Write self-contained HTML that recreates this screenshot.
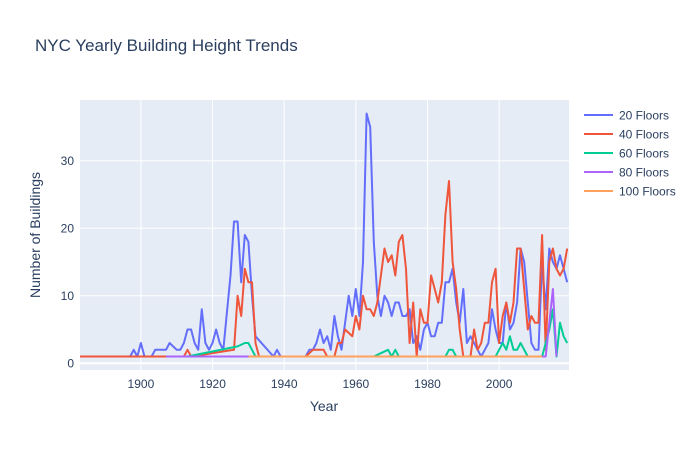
<!DOCTYPE html>
<html><head><meta charset="utf-8">
<style>
body{margin:0;background:#fff;font-family:"Liberation Sans",Arial,sans-serif;}
svg text{font-family:"Liberation Sans",Arial,sans-serif;fill:#2a3f5f;}
</style></head>
<body>
<svg id="chart" width="700" height="450" xmlns="http://www.w3.org/2000/svg">
<rect width="700" height="450" fill="#fff"/>
<text x="35" y="51" font-size="17">NYC Yearly Building Height Trends</text>
<rect x="80" y="100" width="489" height="270" fill="#e5ecf6"/>
<g id="grid"></g>
<g id="series"></g>
<g id="ticks"></g>
<text x="324" y="411" font-size="14" text-anchor="middle">Year</text>
<text transform="translate(40,235) rotate(-90)" font-size="14" text-anchor="middle">Number of Buildings</text>
<g id="legend"></g>
</svg>
<script>
const xTicks=[1900,1920,1940,1960,1980,2000];
const yTicks=[0,10,20,30];
const seriesNames=["20 Floors","40 Floors","60 Floors","80 Floors","100 Floors"];
const seriesColors=["#636efa","#ef553b","#00cc96","#ab63fa","#ffa15a"];
const years20=[1890,1895,1897,1898,1899,1900,1901,1903,1904,1907,1908,1910,1911,1912,1913,1914,1915,1916,1917,1918,1919,1920,1921,1922,1923,1925,1926,1927,1928,1929,1930,1931,1932,1937,1938,1939,1946,1947,1948,1949,1950,1951,1952,1953,1954,1955,1956,1958,1959,1960,1961,1962,1963,1964,1965,1966,1967,1968,1969,1970,1971,1972,1973,1974,1975,1976,1977,1978,1979,1980,1981,1982,1983,1984,1985,1986,1987,1988,1989,1990,1991,1992,1993,1994,1995,1996,1997,1998,1999,2000,2001,2002,2003,2004,2005,2006,2007,2008,2009,2010,2011,2012,2013,2014,2015,2016,2017,2018,2019];
const vals20=[1,1,1,2,1,3,1,1,2,2,3,2,2,3,5,5,3,2,8,3,2,3,5,3,2,13,21,21,12,19,18,10,4,1,2,1,1,2,2,3,5,3,4,2,7,4,2,10,7,11,7,15,37,35,18,10,7,10,9,7,9,9,7,7,8,3,4,2,5,6,4,4,6,6,12,12,14,9,6,11,3,4,3,2,1,2,3,8,5,3,3,9,5,6,9,17,15,9,3,2,2,15,8,17,15,14,16,14,12];
const years40=[1883,1912,1913,1914,1926,1927,1928,1929,1930,1931,1932,1933,1946,1948,1950,1951,1952,1954,1955,1956,1957,1958,1959,1960,1961,1962,1963,1964,1965,1966,1967,1968,1969,1970,1971,1972,1973,1974,1975,1976,1977,1978,1979,1980,1981,1982,1983,1984,1985,1986,1987,1988,1989,1990,1991,1992,1993,1994,1995,1996,1997,1998,1999,2000,2001,2002,2003,2004,2005,2006,2007,2008,2009,2010,2011,2012,2013,2014,2015,2016,2017,2018,2019];
const vals40=[1,1,2,1,2,10,7,14,12,12,3,1,1,2,2,2,1,1,3,3,5,4.5,4,7,5,10,8,8,7,9,13,17,15,16,13,18,19,14,3,9,1,8,6,6,13,11,9,12,22,27,15,11,5,1,1,1,5,2,3,6,6,12,14,3,7,9,6,9,17,17,11,5,7,6,6,19,2,15,17,14,13,14,17];
const years60=[1913,1927,1929,1930,1931,1932,1965,1969,1970,1971,1972,1985,1986,1987,1988,1999,2000,2001,2002,2003,2004,2005,2006,2007,2008,2009,2010,2011,2012,2014,2015,2016,2017,2018,2019];
const vals60=[1,2.5,3,3,2,1,1,2,1,2,1,1,2,2,1,1,2,3,2,4,2,2,3,2,1,1,1,1,1,5,8,1,6,4,3];
const years80=[1907,2012,2013,2014,2015,2016];
const vals80=[1,1,1,6,11,1];
const years100=[1930,2012];
const vals100=[1,1];
const allYears=[years20,years40,years60,years80,years100];
const allVals=[vals20,vals40,vals60,vals80,vals100];

const X0=80,X1=569,Y0=100,Y1=370;
const xMin=1883,xMax=2019.5,yMin=-1,yMax=39;
const xs=v=>X0+(v-xMin)/(xMax-xMin)*(X1-X0);
const ys=v=>Y1-(v-yMin)/(yMax-yMin)*(Y1-Y0);
const NS="http://www.w3.org/2000/svg";
function mk(tag,attrs,parent){const e=document.createElementNS(NS,tag);for(const k in attrs)e.setAttribute(k,attrs[k]);parent.appendChild(e);return e;}
const grid=document.getElementById('grid'),ticks=document.getElementById('ticks');
xTicks.forEach(t=>{
  const l=mk('line',{x1:xs(t),x2:xs(t),y1:Y0,y2:Y1,stroke:'#fff','stroke-width':1},grid);
  
  
  const tx=mk('text',{x:xs(t),y:388,'font-size':12,'text-anchor':'middle'},ticks);
  tx.textContent=t;
  
  
});
yTicks.forEach(t=>{
  const l=mk('line',{x1:X0,x2:X1,y1:ys(t),y2:ys(t),stroke:'#fff','stroke-width':t===0?2:1},grid);
  
  
  const tx=mk('text',{x:X0-3-3,y:ys(t)+4,'font-size':12,'text-anchor':'end'},ticks);
  tx.textContent=t;
  
  
});
const sg=document.getElementById('series');
allYears.forEach((yrs,i)=>{
  const d=yrs.map((y,j)=>(j?'L':'M')+xs(y).toFixed(1)+','+ys(allVals[i][j]).toFixed(1)).join(' ');
  const p=mk('path',{d:d,fill:'none',stroke:seriesColors[i],'stroke-width':2,'stroke-linejoin':'round'},sg);
  
  
});
const lg=document.getElementById('legend');
seriesNames.forEach((n,i)=>{
  const g=mk('g',{},lg);
  
  
  const y=115+i*19;
  mk('line',{x1:584,x2:613,y1:y,y2:y,stroke:seriesColors[i],'stroke-width':2},g);
  const t=mk('text',{x:619,y:y+4.5,'font-size':12},g);
  t.textContent=n;
});
</script>
</body></html>
